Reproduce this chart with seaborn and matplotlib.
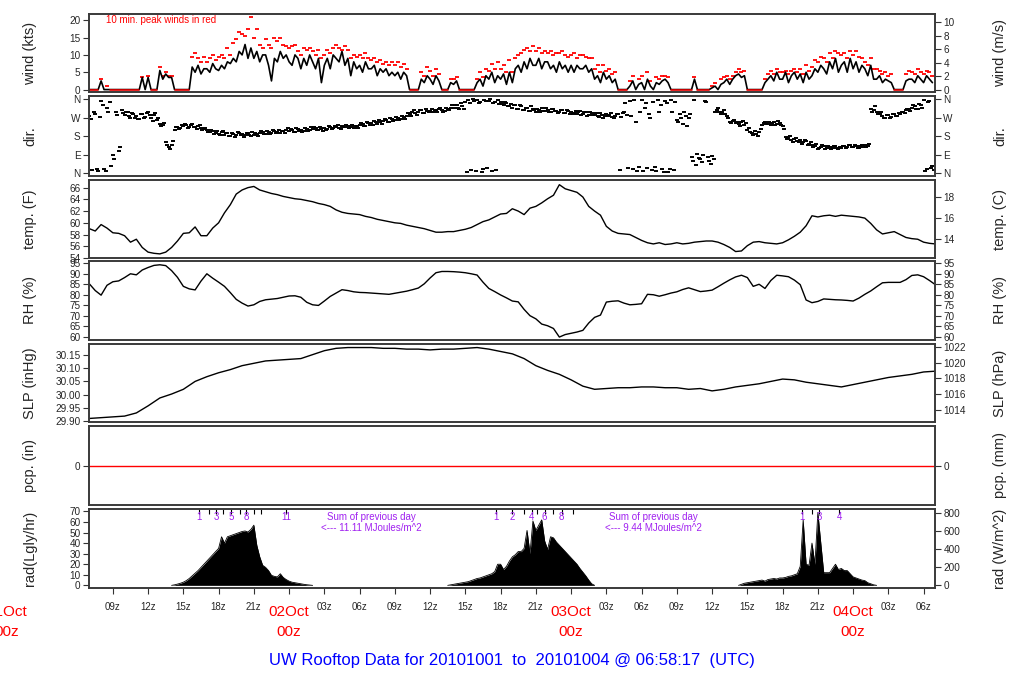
import numpy as np
import pandas as pd
import matplotlib
matplotlib.use("Agg")
import matplotlib.pyplot as plt
import seaborn as sns

# ---------------- data (time = hours since 2010-10-01 00z) ----------------
x_start, x_end = 6.97, 78.97

# 15-minute wind speed (kts) from 07z Oct 1, one row per hour
wind_t0, wind_dt = 7.0, 0.25
wind_kts = [
    0, 0, 0, 0,  2.5, 0, 0, 0,  0, 0, 0, 0,  0, 0, 0, 0,
    0, 0, 3.5, 0,  3.5, 0, 0, 0,  5.5, 3, 4.5, 3.5,  3.5, 0, 0, 0,
    0, 0, 0, 6.5,  5, 7, 4.5, 6,  6, 5, 7.5, 6,  5.5, 7, 6, 8,
    7.5, 9, 8, 11,  10, 13, 9, 12,  9, 11, 8, 10,  10, 7, 2.5, 9,
    8, 11, 9, 10,  8, 7, 10, 9,  6, 9, 7, 10,  8, 6, 9, 2,
    7, 9, 6, 10,  9, 8, 11, 7,  9, 4, 8, 6,  7, 5, 8, 6,
    6, 7, 4, 6,  5, 6, 4, 5,  4, 5, 3, 5,  4, 0, 0, 0,
    0, 3, 2, 4,  3, 1.5, 4, 2.5,  0, 0, 0, 2,  1.5, 2.5, 0, 0,
    0, 0, 0, 0,  2, 3, 1, 4,  3, 5, 2, 4,  3, 4.5, 1.5, 5,
    2, 6, 7, 5,  8, 6, 9, 7,  7, 9, 6, 8,  8, 6, 7, 5,
    8, 6, 7, 5,  7, 5, 7, 6,  6, 7, 5, 6,  3, 4, 2, 5,
    3, 4, 2, 3,  0, 0, 0, 0,  1, 2.5, 0, 1.5,  2, 0, 3, 1,
    0, 2, 1.5, 2.5,  3, 2, 0, 0,  0, 0, 0, 0,  0, 0, 3, 0,
    0, 0, 0, 0,  0.5, 1, 0, 1.5,  2, 3, 1.5, 3,  4, 4.5, 3.5, 4,
    0, 0, 0, 0,  0, 0, 2, 3,  4, 2.5, 5, 3,  3, 5, 2, 4,
    5, 3, 4.5, 2,  5, 3, 4, 6,  5, 7, 6, 4.5,  8, 6, 9, 5,
    7, 8, 5, 9,  6, 8, 5, 7,  6, 4, 7, 3,  3, 4, 2, 3,
    2.5, 2, 0, 0,  0, 0, 2.5, 3,  3, 2, 4, 3,  2, 4, 3, 2,
]
# 10-min peak gusts (kts), same 15-minute grid
peak_kts = [
    0, 0, 0, 0,  3, 0, 1, 0,  0, 0, 0, 0,  0, 0, 0, 0,
    0, 0, 3.5, 0,  3.8, 0, 0, 0,  6.5, 4, 5, 4,  4, 0, 0, 0,
    0, 0, 0, 9.5,  10.5, 9, 8, 9.5,  8, 9, 10, 8.5,  9.5, 10, 9, 12,
    10, 13.5, 14.5, 16.5,  16, 15.5, 17.5, 21,  15, 17.5, 13, 12,  14.5, 13, 12, 15,
    14, 15, 13, 12.5,  12, 12.5, 13, 11,  10, 12, 11.5, 12,  11, 10, 11.5, 9,
    10, 11.5, 10.5, 12,  13, 12, 11.5, 12.5,  11.5, 9, 10, 9.5,  10, 9, 10.5, 9,
    8.5, 9, 8, 8.5,  7.5, 8, 7, 8,  7, 8, 6.5, 7.5,  6, 0, 0, 0,
    0, 5, 4, 6.5,  5.5, 4, 6, 4.5,  0, 0, 0, 3,  3, 3.5, 0, 0,
    0, 0, 0, 0,  3, 5, 3.5, 6,  5.5, 7.5, 6, 8,  6, 7, 5, 8.5,
    5, 9, 10, 10.5,  11.5, 12, 11, 12.5,  11, 12, 10.5, 11,  10.5, 11, 10, 10.5,
    10.5, 11, 10, 9.5,  10, 10.5, 9, 10,  10, 9.5, 9, 9,  6, 7, 5, 7,
    5.5, 6, 4.5, 5,  0, 0, 0, 0,  2.5, 4, 0, 3,  4, 0, 5, 2.5,
    0, 3.5, 3, 4,  4, 3.5, 0, 0,  0, 0, 0, 0,  0, 0, 3.5, 0,
    0, 0, 0, 0,  1, 2, 0, 3,  3.5, 4, 3, 4,  5, 6, 5, 5.5,
    0, 0, 0, 0,  0, 0, 3, 4.5,  5.5, 4.5, 6, 5,  5, 5.5, 4.5, 5.5,
    6, 5, 6, 4.5,  7, 5.5, 6.5, 8.5,  8, 9.5, 9, 8,  10.5, 9, 11, 10.5,
    10, 10.5, 9, 11,  10, 11, 9.5, 9,  8, 7, 9, 6,  6, 5.5, 4.5, 5,
    4, 4.5, 0, 0,  0, 0, 4.5, 5.5,  5, 4.5, 6, 5,  4.5, 5.5, 5, 4,
]
# wind direction (deg), same 15-minute grid
dir_deg = [
    280, 15, 290, 10,  350, 20, 320, 345,  90, 300, 110, 310,  285, 300, 270, 290,
    280, 265, 290, 275,  300, 270, 285, 260,  240, 235, 150, 130,  140, 210, 225, 220,
    230, 235, 225, 240,  225, 230, 220, 215,  210, 200, 205, 195,  190, 200, 185, 195,
    180, 190, 185, 195,  190, 185, 195, 180,  185, 190, 195, 200,  190, 200, 195, 205,
    200, 195, 205, 210,  205, 210, 200, 215,  210, 205, 215, 210,  215, 220, 210, 215,
    220, 215, 225, 220,  225, 220, 230, 225,  230, 225, 220, 230,  235, 240, 230, 245,
    245, 255, 240, 250,  255, 260, 250, 265,  260, 270, 265, 275,  280, 290, 300, 295,
    300, 310, 295, 305,  305, 300, 310, 315,  310, 305, 315, 320,  320, 330, 315, 325,
    345, 355, 15, 350,  355, 345, 20, 350,  350, 10, 345, 355,  345, 330, 340, 325,
    320, 330, 315, 325,  310, 320, 305, 315,  300, 310, 320, 305,  310, 300, 315, 305,
    300, 310, 295, 305,  300, 295, 290, 305,  290, 300, 285, 295,  285, 280, 295, 270,
    290, 285, 275, 280,  290, 275, 300, 285,  350, 20, 250, 30,  355, 320, 25, 270,
    345, 10, 300, 20,  350, 5, 355, 15,  260, 290, 240, 280,  270, 80, 355, 95,
    70, 90, 345, 60,  85, 300, 320, 290,  310, 280, 250, 255,  245, 240, 250, 235,
    210, 200, 185, 190,  200, 235, 250, 240,  235, 250, 240, 245,  230, 175, 170, 160,
    165, 155, 160, 150,  155, 145, 140, 135,  120, 130, 135, 125,  130, 125, 135, 120,
    125, 135, 130, 140,  130, 135, 125, 140,  140, 135, 315, 310,  300, 290, 280, 270,
    285, 275, 290, 280,  290, 300, 310, 315,  320, 325, 315, 330,  355, 20, 350, 35,
]
# second set of direction readings, 7.5 minutes later (other side of the scatter band)
dir_deg_b = [
    265, 300, 20, 275,  330, 10, 300, 35,  70, 285, 130, 295,  300, 280, 295, 270,
    265, 290, 270, 295,  285, 255, 295, 270,  230, 245, 140, 120,  155, 225, 215, 235,
    240, 220, 235, 225,  215, 235, 210, 220,  200, 210, 190, 205,  185, 205, 195, 180,
    195, 175, 200, 185,  175, 195, 185, 200,  195, 180, 205, 190,  205, 190, 210, 195,
    210, 205, 195, 220,  215, 200, 220, 205,  200, 220, 205, 225,  225, 210, 225, 205,
    210, 230, 215, 230,  235, 215, 225, 235,  220, 235, 230, 220,  245, 230, 250, 235,
    235, 250, 260, 240,  265, 250, 270, 255,  275, 260, 280, 265,  295, 280, 310, 285,
    310, 295, 315, 300,  315, 310, 300, 320,  300, 320, 310, 330,  330, 320, 340, 315,
    5, 340, 360, 10,  340, 5, 355, 25,  360, 340, 15, 335,  335, 345, 325, 335,
    330, 315, 330, 310,  320, 305, 325, 310,  315, 300, 305, 320,  300, 315, 305, 295,
    310, 295, 310, 290,  290, 305, 300, 285,  300, 280, 300, 285,  295, 275, 285, 280,
    280, 295, 270, 290,  15, 295, 340, 25,  280, 355, 10, 300,  10, 340, 290, 15,
    30, 355, 330, 5,  340, 20, 300, 345,  250, 270, 300, 230,  290, 60, 40, 75,
    55, 350, 80, 45,  70, 310, 300, 300,  290, 270, 245, 260,  250, 230, 255, 245,
    220, 195, 205, 180,  215, 245, 240, 250,  245, 235, 255, 235,  215, 165, 180, 150,
    170, 150, 145, 160,  140, 150, 130, 145,  125, 140, 120, 135,  120, 135, 125, 130,
    135, 125, 140, 130,  140, 125, 135, 130,  130, 145, 300, 325,  290, 300, 270, 285,
    270, 290, 280, 295,  300, 295, 315, 305,  330, 315, 335, 320,  10, 345, 25, 15,
]

# 30-minute temperature (F) and relative humidity (%) from 07z Oct 1
thermo_t0, thermo_dt = 7.0, 0.5
temp_f = [
    59.0, 58.6, 59.7, 59.1, 58.3, 58.2,
    57.8, 56.7, 57.2, 55.8, 55.0, 54.8,
    54.7, 55.0, 55.8, 56.9, 58.2, 58.3,
    59.3, 57.8, 57.8, 59.1, 60.0, 61.7,
    63.1, 64.9, 65.6, 66.0, 66.2, 65.6,
    65.3, 65.0, 64.8, 64.5, 64.3, 64.1,
    64.0, 63.8, 63.6, 63.3, 63.1, 62.8,
    62.2, 61.8, 61.6, 61.5, 61.4, 61.1,
    60.9, 60.6, 60.4, 60.2, 60.0, 59.9,
    59.6, 59.4, 59.2, 59.0, 58.7, 58.4,
    58.4, 58.5, 58.5, 58.7, 58.9, 59.2,
    59.7, 60.2, 60.5, 61.0, 61.5, 61.6,
    62.4, 62.0, 61.4, 62.5, 62.8, 63.4,
    64.1, 64.7, 66.5, 65.8, 65.5, 65.2,
    64.4, 62.8, 62.0, 61.3, 59.4, 58.6,
    58.2, 58.1, 58.0, 57.5, 57.0, 56.6,
    56.4, 56.6, 56.3, 56.4, 56.6, 56.4,
    56.5, 56.7, 56.8, 56.9, 56.9, 56.7,
    56.3, 55.8, 55.1, 55.2, 56.1, 56.7,
    56.8, 56.6, 56.5, 56.4, 56.6, 57.1,
    57.7, 58.4, 59.5, 61.2, 61.0, 61.2,
    61.3, 61.1, 61.3, 61.2, 61.1, 61.0,
    60.8, 59.9, 58.8, 58.1, 58.3, 58.5,
    58.0, 57.5, 57.3, 57.2, 56.7, 56.5,
    56.4,
]
rh_pct = [
    85.2, 82.0, 79.8, 84.5, 86.2, 86.6,
    88.2, 90.0, 89.5, 91.8, 93.0, 94.0,
    94.3, 93.9, 91.5, 88.3, 84.0, 82.8,
    82.3, 86.5, 90.0, 87.9, 86.0, 84.0,
    81.0, 77.8, 76.0, 74.6, 75.2, 76.8,
    77.6, 77.9, 78.2, 78.8, 79.4, 79.5,
    78.8, 76.4, 75.2, 74.9, 77.0, 79.2,
    80.8, 82.4, 82.0, 81.4, 81.1, 81.0,
    80.8, 80.6, 80.4, 80.2, 80.7, 81.2,
    81.7, 82.4, 83.2, 85.2, 88.0, 90.5,
    91.1, 91.1, 91.0, 90.8, 90.5, 90.0,
    89.4, 86.0, 83.0, 81.5, 79.9, 78.5,
    77.0, 76.6, 73.0, 70.0, 68.5, 66.0,
    65.2, 63.9, 59.8, 61.0, 61.6, 62.2,
    63.0, 66.5, 69.2, 70.3, 76.5, 76.9,
    77.1, 76.0, 75.2, 75.4, 75.7, 80.2,
    80.0, 79.3, 80.0, 80.8, 81.4, 82.5,
    83.3, 82.4, 81.5, 81.8, 82.2, 83.8,
    85.5, 87.1, 88.5, 89.3, 88.2, 84.0,
    85.0, 83.0, 86.8, 89.3, 89.0, 88.6,
    87.0, 84.8, 77.5, 76.2, 76.8, 78.0,
    77.8, 77.6, 77.5, 77.3, 77.0, 78.4,
    80.2, 81.8, 83.8, 85.7, 85.9, 85.9,
    85.9, 87.2, 89.2, 89.5, 88.6, 86.8,
    84.8,
]

# hourly sea-level pressure (hPa) from 07z Oct 1
slp_t0, slp_dt = 7.0, 1.0
slp_hpa = [
    1012.9, 1013.0, 1013.1, 1013.2, 1013.6, 1014.5, 1015.5, 1016.0, 1016.6, 1017.6,
    1018.2, 1018.7, 1019.1, 1019.6, 1019.9, 1020.2, 1020.3, 1020.4, 1020.5, 1021.0,
    1021.5, 1021.8, 1021.9, 1021.9, 1021.9, 1021.8, 1021.8, 1021.7, 1021.7, 1021.6,
    1021.7, 1021.7, 1021.8, 1021.9, 1021.7, 1021.4, 1021.1, 1020.5, 1019.6, 1019.0,
    1018.5, 1017.8, 1017.0, 1016.6, 1016.7, 1016.8, 1016.8, 1016.9, 1016.9, 1016.8,
    1016.8, 1016.6, 1016.7, 1016.4, 1016.6, 1016.9, 1017.1, 1017.3, 1017.6, 1017.9,
    1017.8, 1017.5, 1017.3, 1017.1, 1016.9, 1017.2, 1017.5, 1017.8, 1018.1, 1018.3,
    1018.5, 1018.8, 1018.9,
]
# hourly precipitation (in): none fell
pcp_in = [
    0, 0, 0, 0, 0, 0, 0, 0, 0, 0, 0, 0, 0, 0, 0, 0, 0, 0, 0, 0, 0, 0, 0, 0,
    0, 0, 0, 0, 0, 0, 0, 0, 0, 0, 0, 0, 0, 0, 0, 0, 0, 0, 0, 0, 0, 0, 0, 0,
    0, 0, 0, 0, 0, 0, 0, 0, 0, 0, 0, 0, 0, 0, 0, 0, 0, 0, 0, 0, 0, 0, 0, 0, 0,
]

# 15-minute solar radiation (Langley/hr) for the three daylight periods
rad_day1_t0 = 14.0
rad_day1 = [
    0, 0.5, 1.2, 2.0, 3.0, 4.5, 6.5, 9, 11.5, 14, 17, 20, 23, 26, 29, 32,
    35, 46, 40, 46, 47, 48, 49, 50, 51, 51.5, 50.5, 53, 57, 38, 27, 19,
    17, 14, 9.5, 8.5, 8, 11, 7.5, 5.5, 4, 3, 2.5, 2, 1.5, 1.0, 0.6, 0.3, 0,
]
rad_day2_t0 = 37.5
rad_day2 = [
    0, 0.5, 1.0, 1.5, 2.0, 2.5, 3.0, 3.5, 4.5, 5.5, 6.5, 7.0, 8, 9, 10, 11,
    13, 20, 20, 15, 18, 23, 27, 29, 32, 32, 35, 52, 30, 61, 52, 57,
    62, 42, 34, 46, 45, 41, 38, 35, 32, 29, 26, 23, 20, 16, 12.5, 9, 5, 1.5, 0,
]
rad_day3_t0 = 62.25
rad_day3 = [
    0, 1, 2, 2.5, 3, 3.5, 4, 4.5, 5, 4, 5.5, 6, 6.5, 6, 7, 7,
    7.5, 8.5, 9, 10, 11, 18, 62, 20, 19, 40, 20, 69, 40, 12, 12, 12,
    16, 20, 15, 16, 14, 14, 11, 8, 7, 6, 5, 4.5, 2.5, 1.5, 0.5, 0,
]

# little hour marks along the top of the radiation panel
rad_mark_hours = [16.33, 17.18, 17.78, 18.37, 19.06, 19.82, 20.33, 21.02, 21.61, 23.74,
                  41.65, 43.01, 43.95, 44.63, 45.14, 45.74, 46.5, 47.19, 48.2,
                  67.62, 68.48, 69.13, 70.83]
rad_num_hours = [16.33, 17.78, 19.06, 20.33, 23.74, 41.65, 43.01, 44.63, 45.74, 47.19,
                 67.62, 69.13, 70.83]
rad_num_labels = ["1", "3", "5", "8", "11", "1", "2", "4", "6", "8", "1", "3", "4"]
rad_sum_hours = [31.0, 55.0]
rad_sum_values = ["11.11", "9.44"]

# axis ticks / labels
tick_hours = [9, 12, 15, 18, 21, 24, 27, 30, 33, 36, 39, 42, 45, 48, 51, 54,
              57, 60, 63, 66, 69, 72, 75, 78]
day_hours = [0, 24, 48, 72]
day_labels = ["01Oct", "02Oct", "03Oct", "04Oct"]
left_labels = ["wind (kts)", "dir.", "temp. (F)", "RH (%)", "SLP (inHg)", "pcp. (in)", "rad(Lgly/hr)"]
right_labels = ["wind (m/s)", "dir.", "temp. (C)", "RH (%)", "SLP (hPa)", "pcp. (mm)", "rad (W/m^2)"]
title = "UW Rooftop Data for 20101001  to  20101004 @ 06:58:17  (UTC)"

# ---------------- plotting ----------------
sns.set_style("ticks")
plt.rcParams['font.family'] = ['Liberation Sans', 'DejaVu Sans']

W, H = 1024, 700
fig = plt.figure(figsize=(W / 100, H / 100), dpi=100)
panel_px = [(14, 92), (96, 176), (180, 258), (261, 340), (344, 422), (426, 505), (509, 588)]
axes = []
for top, bot in panel_px:
    ax = fig.add_axes([89 / W, 1 - bot / H, 846 / W, (bot - top) / H])
    ax.set_xlim(x_start, x_end)
    for s in ax.spines.values():
        s.set_linewidth(1.4)
        s.set_color('#3a3a3a')
    ax.tick_params(axis='y', labelsize=7.2, length=4, width=0.8, pad=2, color='#333333')
    ax.tick_params(axis='x', bottom=False, labelbottom=False)
    axes.append(ax)
ax_w, ax_d, ax_t, ax_rh, ax_p, ax_pc, ax_r = axes


def right_axis(ax, fwd, inv, ticks, labels=None):
    sec = ax.secondary_yaxis('right', functions=(fwd, inv))
    sec.set_yticks(ticks)
    if labels is not None:
        sec.set_yticklabels(labels)
    sec.tick_params(labelsize=7.2, length=4, width=0.8, pad=2, color='#333333')
    sec.spines['right'].set_visible(False)
    return sec


# ---- wind ----
tw = wind_t0 + wind_dt * np.arange(len(wind_kts))
wind_df = pd.DataFrame({'t': tw, 'spd': wind_kts, 'peak': peak_kts})
sns.lineplot(data=wind_df, x='t', y='spd', ax=ax_w, color='black', lw=1.2, estimator=None)
calm = wind_df['peak'] == 0
run_id = (calm != calm.shift()).cumsum()
calm_df = wind_df[calm].assign(run=run_id[calm], zero=0.0)
sns.lineplot(data=calm_df, x='t', y='zero', units='run', estimator=None, ax=ax_w,
             color='red', lw=1.1)
gust_df = wind_df[wind_df['peak'] > 0]
sns.scatterplot(data=gust_df, x='t', y='peak', ax=ax_w, marker='_', color='red',
                s=6, linewidth=1.3, legend=False)
ax_w.set_ylim(-0.7, 21.8)
ax_w.set_yticks([0, 5, 10, 15, 20])
right_axis(ax_w, lambda k: k / 1.94384, lambda m: m * 1.94384, [0, 2, 4, 6, 8, 10])
ax_w.text(0.02, 0.92, "10 min. peak winds in red", transform=ax_w.transAxes,
          color='red', fontsize=7, ha='left', va='center')

# ---- direction ----
dir_df = pd.DataFrame({'t': np.concatenate([tw, tw + 0.125]),
                       'dir': np.concatenate([dir_deg, dir_deg_b])})
sns.scatterplot(data=dir_df, x='t', y='dir', ax=ax_d, marker='_', color='black',
                s=6, linewidth=1.4, legend=False)
ax_d.set_ylim(-13, 376)
ax_d.set_yticks([0, 90, 180, 270, 360])
ax_d.set_yticklabels(["N", "E", "S", "W", "N"])
right_axis(ax_d, lambda v: v, lambda v: v, [0, 90, 180, 270, 360], ["N", "E", "S", "W", "N"])

# ---- temperature ----
tt = thermo_t0 + thermo_dt * np.arange(len(temp_f))
sns.lineplot(x=tt, y=temp_f, ax=ax_t, color='black', lw=1.0, estimator=None)
ax_t.set_ylim(54.0, 67.3)
ax_t.set_yticks([54, 56, 58, 60, 62, 64, 66])
right_axis(ax_t, lambda f: (f - 32) / 1.8, lambda c: c * 1.8 + 32, [14, 16, 18])

# ---- RH ----
sns.lineplot(x=tt, y=rh_pct, ax=ax_rh, color='black', lw=1.0, estimator=None)
ax_rh.set_ylim(58.4, 96.1)
ax_rh.set_yticks([60, 65, 70, 75, 80, 85, 90, 95])
right_axis(ax_rh, lambda v: v, lambda v: v, [60, 65, 70, 75, 80, 85, 90, 95])

# ---- SLP ----
ts = slp_t0 + slp_dt * np.arange(len(slp_hpa))
slp_inhg = np.array(slp_hpa) / 33.8639
sns.lineplot(x=ts, y=slp_inhg, ax=ax_p, color='black', lw=1.0, estimator=None)
ax_p.set_ylim(1012.45 / 33.8639, 1022.35 / 33.8639)
ax_p.set_yticks([29.90, 29.95, 30.00, 30.05, 30.10, 30.15])
ax_p.set_yticklabels(["29.90", "29.95", "30.00", "30.05", "30.10", "30.15"])
right_axis(ax_p, lambda i: i * 33.8639, lambda h: h / 33.8639, [1014, 1016, 1018, 1020, 1022])

# ---- precipitation ----
sns.lineplot(x=ts, y=pcp_in, ax=ax_pc, color='red', lw=1.0, estimator=None)
ax_pc.set_ylim(-1, 1)
ax_pc.set_yticks([0])
right_axis(ax_pc, lambda v: v * 25.4, lambda v: v / 25.4, [0])

# ---- radiation ----
for t0, vals in [(rad_day1_t0, rad_day1), (rad_day2_t0, rad_day2), (rad_day3_t0, rad_day3)]:
    tr = t0 + 0.25 * np.arange(len(vals))
    ax_r.fill_between(tr, 0, vals, color='black', lw=0)
    sns.lineplot(x=tr, y=vals, ax=ax_r, color='black', lw=0.6, estimator=None)
ax_r.set_ylim(-2.5, 72.3)
ax_r.set_yticks([0, 10, 20, 30, 40, 50, 60, 70])
right_axis(ax_r, lambda l: l * 11.63, lambda w: w / 11.63, [0, 200, 400, 600, 800])
purple = '#a020f0'
ax_r.vlines(rad_mark_hours, 0.94, 1.0, transform=ax_r.get_xaxis_transform(),
            color='black', lw=0.8)
for h, lab in zip(rad_num_hours, rad_num_labels):
    ax_r.text(h, 0.90, lab, transform=ax_r.get_xaxis_transform(), color=purple,
              fontsize=7, ha='center', va='center')
for h, v in zip(rad_sum_hours, rad_sum_values):
    ax_r.text(h, 0.90, "Sum of previous day", transform=ax_r.get_xaxis_transform(),
              color=purple, fontsize=7, ha='center', va='center')
    ax_r.text(h, 0.76, "<--- " + v + " MJoules/m^2", transform=ax_r.get_xaxis_transform(),
              color=purple, fontsize=7, ha='center', va='center')

# bottom time axis
ax_r.set_xticks(tick_hours)
ax_r.set_xticklabels(["" if h % 24 == 0 else "%02dz" % (h % 24) for h in tick_hours])
ax_r.tick_params(axis='x', bottom=True, labelbottom=True, length=4, width=0.8,
                 labelsize=7, pad=6, color='#333333')
for h, lab in zip(day_hours, day_labels):
    ax_r.text(h, -0.30, lab, transform=ax_r.get_xaxis_transform(), color='red',
              fontsize=11, ha='center', va='center', clip_on=False)
    ax_r.text(h, -0.555, "00z", transform=ax_r.get_xaxis_transform(), color='red',
              fontsize=11, ha='center', va='center', clip_on=False)

for ax in axes:
    ax.set_xlabel("")
    ax.set_ylabel("")

# side labels
for (top, bot), ll, rl in zip(panel_px, left_labels, right_labels):
    yc = 1 - (top + bot) / 2 / H
    fig.text(30 / W, yc, ll, rotation=90, ha='center', va='center', fontsize=10.5)
    fig.text(1000 / W, yc, rl, rotation=90, ha='center', va='center', fontsize=10.5)

fig.text(0.5, 1 - 661 / H, title, ha='center', va='center', color='#0000ff', fontsize=12)

fig.savefig("out.png", dpi=100)
